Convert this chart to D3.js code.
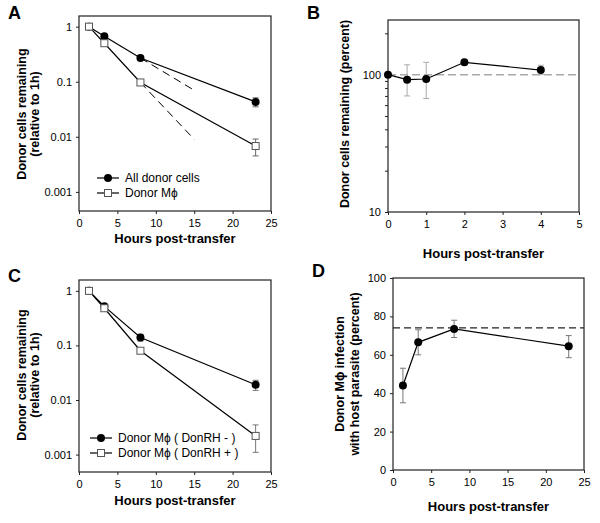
<!DOCTYPE html>
<html>
<head>
<meta charset="utf-8">
<script src="https://cdn.jsdelivr.net/npm/d3@7"></script>
<style>
  body { margin: 0; background: #fff; }
  svg { font-family: Arial, "Liberation Sans", sans-serif; }
  .tick text { font-size: 11px; fill: #000; }
  .axis path, .axis line { stroke: #222; }
</style>
</head>
<body>
<svg id="chart" width="600" height="523"></svg>
<script>
// panel A: relative survival of donor cells
const hoursA = [1.3, 3.3, 8, 23];
const allDonor = [1, 0.67, 0.27, 0.043];
const allDonorErr = [0, 0.04, 0.02, 0.008];
const donorMac = [1, 0.5, 0.097, 0.0068];
const donorMacErr = [0, 0.03, 0.008, 0.0023];
// extrapolated early decay (dashed)
const dashAll = [[8, 0.27], [15, 0.07]];
const dashMac = [[8, 0.097], [15, 0.009]];

// panel B: short-term recovery
const hoursB = [0, 0.5, 1, 2, 4];
const percentB = [100, 92, 93, 123, 108];
const percentBLo = [100, 70, 67, 123, 100];
const percentBHi = [100, 118, 123, 123, 117];

// panel C: donor macrophages by infection status
const hoursC = [1.3, 3.3, 8, 23];
const donRhNeg = [1, 0.52, 0.14, 0.019];
const donRhNegLo = [1, 0.5, 0.12, 0.015];
const donRhNegHi = [1, 0.55, 0.16, 0.023];
const donRhPos = [1, 0.48, 0.08, 0.0022];
const donRhPosLo = [1, 0.46, 0.075, 0.0011];
const donRhPosHi = [1, 0.5, 0.085, 0.0035];

// panel D: infection with host parasite
const hoursD = [1.3, 3.3, 8, 23];
const infectD = [44, 66.5, 73.5, 64.5];
const infectDLo = [35, 60, 69, 58.5];
const infectDHi = [53, 73, 78, 70];
const infectRef = 74;

const logTicks = [1, 0.1, 0.01, 0.001];
const logTickLabels = ['1', '0.1', '0.01', '0.001'];
const hourTicks = [0, 5, 10, 15, 20, 25];

const svg = d3.select('#chart');

function panel(opt) {
  const g = svg.append('g');
  const x = d3.scaleLinear().domain(opt.xDomain).range([opt.left, opt.right]);
  const y = (opt.log ? d3.scaleLog() : d3.scaleLinear()).domain(opt.yDomain).range([opt.bottom, opt.top]);

  g.append('rect')
    .attr('x', opt.left).attr('y', opt.top)
    .attr('width', opt.right - opt.left).attr('height', opt.bottom - opt.top)
    .attr('fill', 'none').attr('stroke', '#222').attr('stroke-width', 1.2);

  const xAxis = g.append('g').attr('class', 'axis')
    .attr('transform', `translate(0,${opt.bottom})`)
    .call(d3.axisBottom(x).tickValues(opt.xTicks).tickSize(3).tickPadding(5).tickFormat(d3.format('d')));
  xAxis.select('.domain').remove();

  const yAxis = g.append('g').attr('class', 'axis')
    .attr('transform', `translate(${opt.left},0)`)
    .call(d3.axisLeft(y).tickValues(opt.yTicks).tickSize(3).tickPadding(4)
      .tickFormat((d, i) => opt.yLabels ? opt.yLabels[i] : d));
  yAxis.select('.domain').remove();

  if (opt.minor) {
    g.append('g').attr('class', 'axis')
      .attr('transform', `translate(${opt.left},0)`)
      .call(d3.axisLeft(y).tickValues(opt.minor).tickSize(3).tickFormat(''))
      .select('.domain').remove();
  }

  // titles
  const cx = (opt.left + opt.right) / 2;
  g.append('text').attr('x', cx).attr('y', opt.xTitleY)
    .attr('text-anchor', 'middle').attr('font-size', 13).attr('font-weight', 'bold')
    .text('Hours post-transfer');
  opt.yTitle.forEach((t, i) => {
    g.append('text')
      .attr('transform', `translate(${opt.yTitleX[i]},${opt.yTitleCY}) rotate(-90)`)
      .attr('text-anchor', 'middle').attr('dominant-baseline', 'central')
      .attr('font-size', 12.5).attr('font-weight', 'bold')
      .text(t);
  });
  g.append('text').attr('x', opt.labelX).attr('y', opt.labelY)
    .attr('font-size', 18).attr('font-weight', 'bold').text(opt.label);

  return { g, x, y };
}

function errorBars(p, xs, lo, hi, color) {
  xs.forEach((xv, i) => {
    if (lo[i] === hi[i]) return;
    const px = p.x(xv);
    p.g.append('line').attr('x1', px).attr('x2', px)
      .attr('y1', p.y(lo[i])).attr('y2', p.y(hi[i])).attr('stroke', color);
    [lo[i], hi[i]].forEach(v => {
      p.g.append('line').attr('x1', px - 3).attr('x2', px + 3)
        .attr('y1', p.y(v)).attr('y2', p.y(v)).attr('stroke', color);
    });
  });
}

function series(p, xs, ys, shape) {
  const pts = xs.map((d, i) => [d, ys[i]]);
  p.g.append('path')
    .attr('d', d3.line().x(d => p.x(d[0])).y(d => p.y(d[1]))(pts))
    .attr('fill', 'none').attr('stroke', '#000').attr('stroke-width', 1.2);
  pts.forEach(d => marker(p.g, p.x(d[0]), p.y(d[1]), shape));
}

function marker(g, px, py, shape) {
  if (shape === 'circle') {
    g.append('circle').attr('cx', px).attr('cy', py).attr('r', 4).attr('fill', '#000');
  } else {
    g.append('rect').attr('x', px - 3.5).attr('y', py - 3.5).attr('width', 7).attr('height', 7)
      .attr('fill', '#fff').attr('stroke', '#555').attr('stroke-width', 1);
  }
}

function legend(g, lx, ly, items) {
  items.forEach((it, i) => {
    const yy = ly + i * 15;
    g.append('line').attr('x1', lx).attr('x2', lx + 22).attr('y1', yy).attr('y2', yy)
      .attr('stroke', '#000').attr('stroke-width', 1.2);
    marker(g, lx + 11, yy, it.shape);
    g.append('text').attr('x', lx + 28).attr('y', yy).attr('dominant-baseline', 'central')
      .attr('font-size', 12).text(it.text);
  });
}

// ---- A ----
const pA = panel({
  left: 79, right: 271, top: 16, bottom: 211, log: true,
  xDomain: [0, 25], yDomain: [0.00045, 1.56],
  xTicks: hourTicks, yTicks: logTicks, yLabels: logTickLabels,
  xTitleY: 243, yTitle: ['Donor cells remaining', '(relative to 1h)'],
  yTitleX: [22, 35], yTitleCY: 114, label: 'A', labelX: 8, labelY: 19
});
[dashAll, dashMac].forEach(seg => {
  pA.g.append('path')
    .attr('d', d3.line().x(d => pA.x(d[0])).y(d => pA.y(d[1]))(seg))
    .attr('fill', 'none').attr('stroke', '#000').attr('stroke-dasharray', '8,5');
});
errorBars(pA, hoursA, allDonor.map((v, i) => v - allDonorErr[i]), allDonor.map((v, i) => v + allDonorErr[i]), '#666');
errorBars(pA, hoursA, donorMac.map((v, i) => v - donorMacErr[i]), donorMac.map((v, i) => v + donorMacErr[i]), '#666');
series(pA, hoursA, allDonor, 'circle');
series(pA, hoursA, donorMac, 'square');
legend(pA.g, 97, 178, [{ shape: 'circle', text: 'All donor cells' }, { shape: 'square', text: 'Donor M\u03d5' }]);

// ---- B ----
const pB = panel({
  left: 388, right: 579, top: 20, bottom: 212, log: true,
  xDomain: [0, 5], yDomain: [10, 250],
  xTicks: [0, 1, 2, 3, 4, 5], yTicks: [10, 100], yLabels: ['10', '100'],
  minor: [20, 30, 40, 50, 60, 70, 80, 90, 200],
  xTitleY: 258, yTitle: ['Donor cells remaining (percent)'],
  yTitleX: [345], yTitleCY: 114, label: 'B', labelX: 307, labelY: 19
});
pB.g.append('line').attr('x1', pB.x(0)).attr('x2', pB.x(5))
  .attr('y1', pB.y(100)).attr('y2', pB.y(100))
  .attr('stroke', '#aaa').attr('stroke-width', 1.5).attr('stroke-dasharray', '8,4');
errorBars(pB, hoursB, percentBLo, percentBHi, '#aaa');
series(pB, hoursB, percentB, 'circle');

// ---- C ----
const pC = panel({
  left: 79, right: 271, top: 280, bottom: 472, log: true,
  xDomain: [0, 25], yDomain: [0.00048, 1.58],
  xTicks: hourTicks, yTicks: logTicks, yLabels: logTickLabels,
  xTitleY: 505, yTitle: ['Donor cells remaining', '(relative to 1h)'],
  yTitleX: [22, 35], yTitleCY: 375, label: 'C', labelX: 8, labelY: 282
});
errorBars(pC, hoursC, donRhNegLo, donRhNegHi, '#777');
errorBars(pC, hoursC, donRhPosLo, donRhPosHi, '#777');
series(pC, hoursC, donRhNeg, 'circle');
series(pC, hoursC, donRhPos, 'square');
legend(pC.g, 90, 438, [{ shape: 'circle', text: 'Donor M\u03d5 ( DonRH - )' }, { shape: 'square', text: 'Donor M\u03d5 ( DonRH + )' }]);

// ---- D ----
const pD = panel({
  left: 393, right: 584, top: 278, bottom: 470, log: false,
  xDomain: [0, 25], yDomain: [0, 100],
  xTicks: hourTicks, yTicks: [0, 20, 40, 60, 80, 100],
  xTitleY: 511, yTitle: ['Donor M\u03d5 infection', 'with host parasite (percent)'],
  yTitleX: [340, 355], yTitleCY: 374, label: 'D', labelX: 312, labelY: 277
});
pD.g.append('line').attr('x1', pD.x(0)).attr('x2', pD.x(25))
  .attr('y1', pD.y(infectRef)).attr('y2', pD.y(infectRef))
  .attr('stroke', '#222').attr('stroke-width', 1.2).attr('stroke-dasharray', '7,4');
errorBars(pD, hoursD, infectDLo, infectDHi, '#777');
series(pD, hoursD, infectD, 'circle');
</script>
</body>
</html>
